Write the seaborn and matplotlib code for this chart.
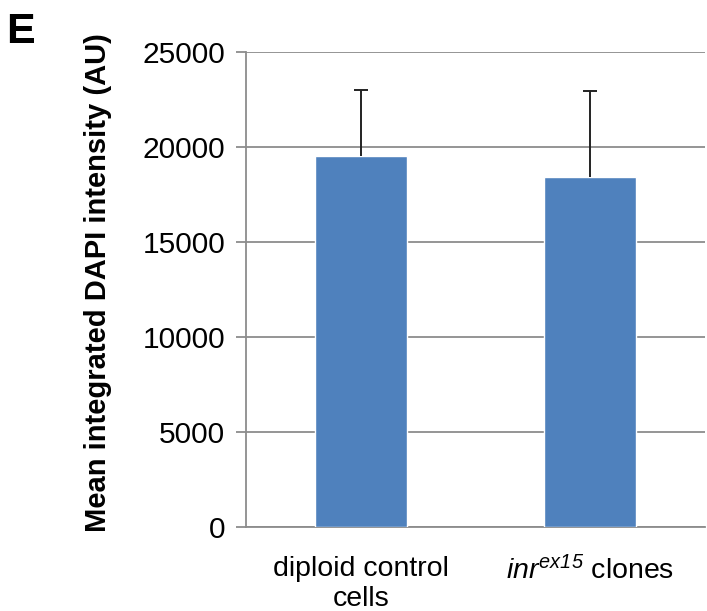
import matplotlib
matplotlib.use("Agg")
import matplotlib.pyplot as plt
import seaborn as sns
import pandas as pd
import numpy as np

categories = ["diploid control\ncells", r"$\mathit{inr}^{\mathbf{ex15}}$ clones"]
means = [19530, 18430]
errors_up = [3470, 4520]
yticks = [0, 5000, 10000, 15000, 20000, 25000]

sns.set_theme(style="white")
plt.rcParams['font.family'] = ['Liberation Sans', 'DejaVu Sans']
plt.rcParams['mathtext.fontset'] = 'custom'
plt.rcParams['mathtext.rm'] = 'Liberation Sans'
plt.rcParams['mathtext.it'] = 'Liberation Sans:italic'
plt.rcParams['mathtext.bf'] = 'Liberation Sans:italic'
plt.rcParams['text.color'] = 'black'
plt.rcParams['axes.labelcolor'] = 'black'
plt.rcParams['xtick.color'] = 'black'
plt.rcParams['ytick.color'] = 'black'

df = pd.DataFrame({"cat": categories, "val": means})

fig = plt.figure(figsize=(7.07, 6.11), dpi=100)
ax = fig.add_axes([0.348, 0.1375, 0.649, 0.7775])

sns.barplot(data=df, x="cat", y="val", color="#4F81BD", saturation=1,
            width=0.4, errorbar=None, ax=ax, zorder=3)

xs = [p.get_x() + p.get_width() / 2 for p in ax.patches]
eb = ax.errorbar(xs, means, yerr=[np.zeros(len(means)), errors_up], fmt="none",
                 ecolor="#222222", elinewidth=1.4, capsize=5, capthick=1.4, zorder=4)
caps = eb[1]
if len(caps) >= 2:
    caps[0].set_visible(False)

ax.set_xlim(-0.5, 1.5)
ax.set_ylim(0, 25000)
ax.set_yticks(yticks)
ax.set_yticklabels([str(v) for v in yticks], fontsize=21.5)
ax.yaxis.grid(True, color="#8c8c8c", linewidth=1.3, zorder=0)
ax.set_axisbelow(True)

ax.set_xticks([0, 1])
ax.set_xticklabels(categories, fontsize=20.5, linespacing=1.2)
ax.set_xticks([-0.5, 0.5, 1.5], minor=True)
ax.tick_params(axis="x", which="major", length=0, pad=21)
ax.tick_params(axis="x", which="minor", length=6, width=1.3, color="#8c8c8c", direction="out")
ax.tick_params(axis="y", which="major", length=7, width=1.3, color="#8c8c8c",
               labelcolor="black", direction="out", pad=8, left=True)

for s in ["top", "right"]:
    ax.spines[s].set_visible(False)
for s in ["left", "bottom"]:
    ax.spines[s].set_visible(True)
    ax.spines[s].set_color("#8c8c8c")
    ax.spines[s].set_linewidth(1.3)

ax.set_xlabel("")
ax.set_ylabel("Mean integrated DAPI intensity (AU)", fontsize=21, fontweight="bold",
              labelpad=22, color="black")
ax.yaxis.label.set_y(0.514)

fig.text(0.009, 1 - 43 / 611, "E", fontsize=31, fontweight="bold", ha="left", va="baseline")

fig.savefig("out.png", dpi=100)
